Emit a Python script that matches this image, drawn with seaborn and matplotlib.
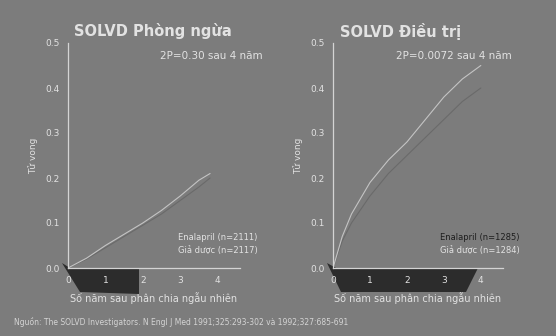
import matplotlib
matplotlib.use("Agg")
import matplotlib.pyplot as plt
from matplotlib.patches import Polygon
import seaborn as sns
import pandas as pd

sns.set_theme(style="white")
plt.rcParams["font.family"] = ["DejaVu Sans"]

# Cumulative mortality, SOLVD prevention trial
prev_years = [0, 0.5, 1, 1.5, 2, 2.5, 3, 3.5, 3.8]
prev_enalapril = [0, 0.02, 0.045, 0.07, 0.095, 0.12, 0.15, 0.18, 0.20]
prev_placebo = [0, 0.022, 0.05, 0.075, 0.10, 0.128, 0.16, 0.195, 0.21]

# Cumulative mortality, SOLVD treatment trial
trt_years = [0, 0.25, 0.5, 1, 1.5, 2, 2.5, 3, 3.5, 4]
trt_enalapril = [0, 0.06, 0.10, 0.16, 0.21, 0.25, 0.29, 0.33, 0.37, 0.40]
trt_placebo = [0, 0.07, 0.12, 0.19, 0.24, 0.28, 0.33, 0.38, 0.42, 0.45]

titles = ["SOLVD Phòng ngừa", "SOLVD Điều trị"]
pvalues = ["2P=0.30 sau 4 năm", "2P=0.0072 sau 4 năm"]
legend_lines = [["Enalapril (n=2111)", "Giả dược (n=2117)"],
                ["Enalapril (n=1285)", "Giả dược (n=1284)"]]
y_ticks = [0.0, 0.1, 0.2, 0.3, 0.4, 0.5]
x_ticks = [0, 1, 2, 3, 4]
xlabel = "Số năm sau phân chia ngẫu nhiên"
ylabel = "Tử vong"
source = "Nguồn: The SOLVD Investigators. N Engl J Med 1991;325:293-302 và 1992;327:685-691"

BG = "#7c7c7c"
FG = "#e2e2e2"

def long_form(years, enal, plac):
    return pd.DataFrame({
        "year": list(years) + list(years),
        "rate": list(enal) + list(plac),
        "arm": ["Enalapril"] * len(years) + ["Giả dược"] * len(years),
    })

frames = [long_form(prev_years, prev_enalapril, prev_placebo),
          long_form(trt_years, trt_enalapril, trt_placebo)]

W, H = 556, 336
fig = plt.figure(figsize=(W / 100, H / 100), dpi=100)
fig.patch.set_facecolor(BG)

def fx(px):
    return px / W

def fy(py):
    return 1 - py / H

# dark bands under the time axis
for pts in ([(62, 263), (70, 268), (139, 268), (139, 294), (80, 292)],
            [(327, 263), (336, 268), (478, 268), (466, 292), (341, 292)]):
    fig.add_artist(Polygon([(fx(x), fy(y)) for x, y in pts], closed=True,
                           transform=fig.transFigure, facecolor="#2c2c2c",
                           edgecolor="none", zorder=-1))

ax_bounds = [(68, 240), (333, 503)]
for i, (left, right) in enumerate(ax_bounds):
    ax = fig.add_axes([fx(left), fy(268), fx(right - left), fy(43) - fy(268)])
    ax.set_facecolor("none")
    sns.lineplot(data=frames[i], x="year", y="rate", hue="arm",
                 palette={"Enalapril": "#6a6a6a", "Giả dược": "#c4c4c4"},
                 linewidth=0.8, legend=False, ax=ax)
    ax.set_xlim(0, 4.6)
    ax.set_ylim(0, 0.5)
    ax.set_xticks(x_ticks)
    ax.set_yticks(y_ticks)
    ax.set_xticklabels([str(t) for t in x_ticks])
    ax.set_yticklabels([f"{t:.1f}" for t in y_ticks])
    ax.tick_params(colors=FG, labelsize=6.5, length=0, pad=6)
    for s in ("top", "right"):
        ax.spines[s].set_visible(False)
    for s in ("left", "bottom"):
        ax.spines[s].set_color("#d4d4d4")
        ax.spines[s].set_linewidth(0.9)
    ax.set_xlabel(xlabel, color=FG, fontsize=7, labelpad=5)
    ax.set_ylabel(ylabel, color=FG, fontsize=6.5, labelpad=5)

# titles, p-values, arm labels
fig.text(fx(74), fy(31), titles[0], color=FG, fontsize=10.5, fontweight="bold", va="center")
fig.text(fx(340), fy(31), titles[1], color=FG, fontsize=10.5, fontweight="bold", va="center")
fig.text(fx(160), fy(56), pvalues[0], color=FG, fontsize=7.5, va="center")
fig.text(fx(396), fy(56), pvalues[1], color=FG, fontsize=7.5, va="center")

fig.text(fx(178), fy(238), legend_lines[0][0], color=FG, fontsize=6, va="center")
fig.text(fx(178), fy(250), legend_lines[0][1], color=FG, fontsize=6, va="center")
fig.text(fx(440), fy(238), legend_lines[1][0], color="#1e1e1e", fontsize=6, va="center")
fig.text(fx(440), fy(250), legend_lines[1][1], color=FG, fontsize=6, va="center")

fig.text(fx(14), fy(322), source, color="#d4d4d4", fontsize=5.5, va="center")

fig.savefig("out.png", dpi=100, facecolor=BG)
